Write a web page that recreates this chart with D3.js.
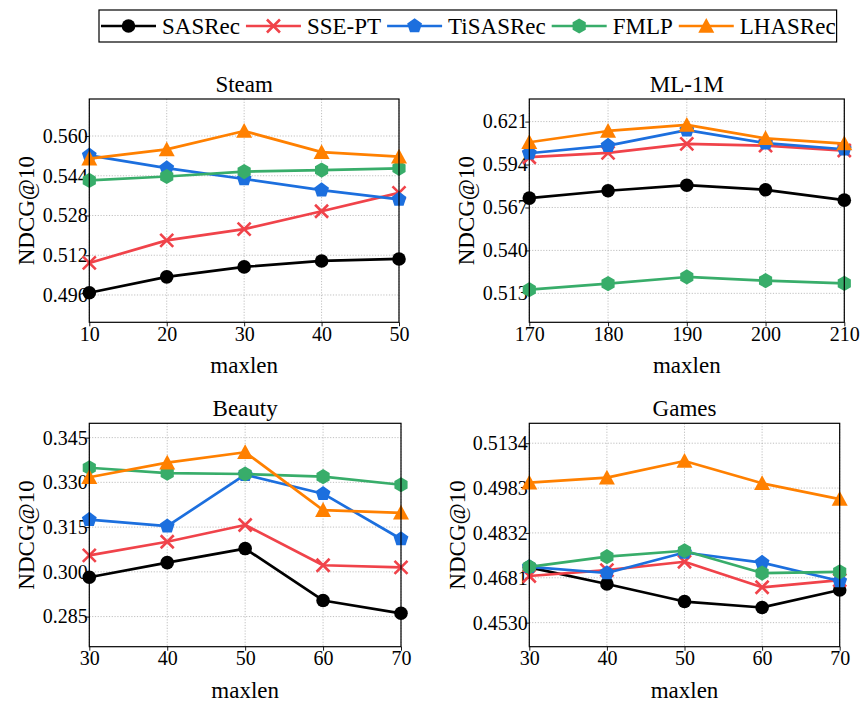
<!DOCTYPE html>
<html>
<head>
<meta charset="UTF-8">
<script src="https://d3js.org/d3.v7.min.js"></script>
</head>
<body style="margin:0">
<svg id="canvas" width="860" height="704"></svg>
<script>
    // series names, in drawing order
    let models = ["SASRec", "SSE-PT", "TiSASRec", "FMLP", "LHASRec"];
    let colors = ["#000000", "#f0434a", "#1c6fde", "#38ad6a", "#ff8000"];
    let shapes = ["circle", "cross", "pentagon", "hexagon", "triangle"];

    // Steam
    let steamX = [10, 20, 30, 40, 50];
    let steamTicks = ["0.496", "0.512", "0.528", "0.544", "0.560"];
    let steamSASRec   = [0.4969, 0.5033, 0.5073, 0.5097, 0.5105];
    let steamSSEPT    = [0.5089, 0.5180, 0.5225, 0.5297, 0.5371];
    let steamTiSASRec = [0.5522, 0.5471, 0.5427, 0.5382, 0.5345];
    let steamFMLP     = [0.5421, 0.5437, 0.5457, 0.5463, 0.5470];
    let steamLHASRec  = [0.5509, 0.5546, 0.5620, 0.5535, 0.5517];

    // ML-1M
    let mlX = [170, 180, 190, 200, 210];
    let mlTicks = ["0.513", "0.540", "0.567", "0.594", "0.621"];
    let mlSASRec   = [0.5729, 0.5775, 0.5810, 0.5781, 0.5716];
    let mlSSEPT    = [0.5986, 0.6013, 0.6070, 0.6059, 0.6028];
    let mlTiSASRec = [0.6011, 0.6059, 0.6156, 0.6074, 0.6036];
    let mlFMLP     = [0.5153, 0.5191, 0.5233, 0.5210, 0.5193];
    let mlLHASRec  = [0.6080, 0.6151, 0.6189, 0.6105, 0.6072];

    // Beauty
    let beautyX = [30, 40, 50, 60, 70];
    let beautyTicks = ["0.285", "0.300", "0.315", "0.330", "0.345"];
    let beautySASRec   = [0.2982, 0.3031, 0.3078, 0.2904, 0.2861];
    let beautySSEPT    = [0.3055, 0.3101, 0.3157, 0.3022, 0.3015];
    let beautyTiSASRec = [0.3175, 0.3153, 0.3326, 0.3262, 0.3110];
    let beautyFMLP     = [0.3349, 0.3331, 0.3328, 0.3319, 0.3292];
    let beautyLHASRec  = [0.3317, 0.3366, 0.3401, 0.3207, 0.3198];

    // Games
    let gamesX = [30, 40, 50, 60, 70];
    let gamesTicks = ["0.4530", "0.4681", "0.4832", "0.4983", "0.5134"];
    let gamesSASRec   = [0.4716, 0.4660, 0.4601, 0.4581, 0.4640];
    let gamesSSEPT    = [0.4687, 0.4707, 0.4735, 0.4649, 0.4673];
    let gamesTiSASRec = [0.4718, 0.4697, 0.4766, 0.4732, 0.4670];
    let gamesFMLP     = [0.4718, 0.4752, 0.4772, 0.4697, 0.4701];
    let gamesLHASRec  = [0.5001, 0.5018, 0.5074, 0.4999, 0.4946];

    let panels = [
        {title: "Steam",  x: steamX,  ticks: steamTicks,  yDomain: [0.485, 0.5749],
         series: [steamSASRec, steamSSEPT, steamTiSASRec, steamFMLP, steamLHASRec],
         box: [89.3, 99, 399, 322.3]},
        {title: "ML-1M",  x: mlX,     ticks: mlTicks,     yDomain: [0.4948, 0.6352],
         series: [mlSASRec, mlSSEPT, mlTiSASRec, mlFMLP, mlLHASRec],
         box: [529.3, 99, 844.3, 322.3]},
        {title: "Beauty", x: beautyX, ticks: beautyTicks, yDomain: [0.2749, 0.3498],
         series: [beautySASRec, beautySSEPT, beautyTiSASRec, beautyFMLP, beautyLHASRec],
         box: [89.3, 423.3, 401, 646.7]},
        {title: "Games",  x: gamesX,  ticks: gamesTicks,  yDomain: [0.4449, 0.5201],
         series: [gamesSASRec, gamesSSEPT, gamesTiSASRec, gamesFMLP, gamesLHASRec],
         box: [529.3, 423.3, 839.7, 646.7]}
    ];

    let svg = d3.select('#canvas');
    let tickSize = 20;   // tick labels
    let fontSize = 23;   // titles, axis labels, legend
    let fontFam = '"Liberation Serif", "Times New Roman", monospace';

    function label(g, x, y, str, anchor){
        return g.append('text').attr("x", x).attr("y", y)
            .attr("text-anchor", anchor || "start")
            .style("font-family", fontFam).style("font-size", fontSize + "px")
            .attr("fill", "black").text(str);
    }

    // marker path generator, centered at 0,0
    function polygon(n, r, rot){
        let pts = d3.range(n).map(i => {
            let a = rot + i * 2 * Math.PI / n;
            return [r * Math.sin(a), -r * Math.cos(a)];
        });
        return "M" + pts.map(p => p.join(",")).join("L") + "Z";
    }
    function drawMarker(g, shape, color, x, y){
        if (shape === "circle"){
            g.append("circle").attr("cx", x).attr("cy", y).attr("r", 6.8).attr("fill", color);
        } else if (shape === "cross"){
            let s = 6.5;
            g.append("path")
                .attr("d", `M${x-s},${y-s}L${x+s},${y+s}M${x-s},${y+s}L${x+s},${y-s}`)
                .attr("stroke", color).attr("stroke-width", 2.6).attr("fill", "none");
        } else if (shape === "pentagon"){
            g.append("path").attr("d", polygon(5, 7.8, 0))
                .attr("transform", `translate(${x},${y})`).attr("fill", color);
        } else if (shape === "hexagon"){
            g.append("path").attr("d", polygon(6, 7.6, 0))
                .attr("transform", `translate(${x},${y})`).attr("fill", color);
        } else if (shape === "triangle"){
            let s = 8;
            g.append("path").attr("d", `M${x},${y-s}L${x+s},${y+s*0.85}L${x-s},${y+s*0.85}Z`)
                .attr("fill", color);
        }
    }

    panels.forEach(p => {
        let [x0, y0, x1, y1] = p.box;
        let xScale = d3.scaleLinear().domain(d3.extent(p.x)).range([x0, x1]);
        let yScale = d3.scaleLinear().domain(p.yDomain).range([y1, y0]);
        let tickVals = p.ticks.map(Number);
        let g = svg.append('g');

        // dotted grid
        let grid = g.append('g')
            .attr("stroke", "#b0b0b0").attr("stroke-width", 0.8).attr("stroke-dasharray", "1.2,1.6");
        grid.selectAll('line.h').data(tickVals).enter().append('line')
            .attr("x1", x0).attr("x2", x1)
            .attr("y1", d => yScale(d)).attr("y2", d => yScale(d));
        grid.selectAll('line.v').data(p.x).enter().append('line')
            .attr("x1", d => xScale(d)).attr("x2", d => xScale(d))
            .attr("y1", y0).attr("y2", y1);

        // axes
        let yAxis = d3.axisLeft(yScale).tickValues(tickVals)
            .tickFormat((d, i) => p.ticks[i]).tickSize(4).tickPadding(-2.5);
        let xAxis = d3.axisBottom(xScale).tickValues(p.x).tickSize(4).tickPadding(0.5);
        let ya = g.append('g').attr("transform", `translate(${x0},0)`).call(yAxis);
        let xa = g.append('g').attr("transform", `translate(0,${y1})`).call(xAxis);
        [ya, xa].forEach(a => {
            a.attr("font-family", null).attr("font-size", null);
            a.select('.domain').remove();
            a.selectAll('text').style("font-size", tickSize + "px")
                .style("font-family", fontFam).attr("fill", "black");
            a.selectAll('line').attr("stroke", "black").attr("stroke-width", 0.9);
        });
        // widest tick label: 5 or 6 characters
        let maxChars = d3.max(p.ticks, s => s.length);
        let labelX = x0 - 2 - maxChars * 9.2 - 7;

        // lines and markers
        let line = d3.line().x((d, i) => xScale(p.x[i])).y(d => yScale(d));
        p.series.forEach((vals, k) => {
            g.append('path').datum(vals).attr("d", line)
                .attr("fill", "none").attr("stroke", colors[k]).attr("stroke-width", 2.7)
                .attr("stroke-linejoin", "round");
            vals.forEach((v, i) => drawMarker(g, shapes[k], colors[k], xScale(p.x[i]), yScale(v)));
        });

        // frame
        g.append('rect').attr("x", x0).attr("y", y0)
            .attr("width", x1 - x0).attr("height", y1 - y0)
            .attr("fill", "none").attr("stroke", "black").attr("stroke-width", 1.2);

        // titles
        let cx = (x0 + x1) / 2, cy = (y0 + y1) / 2;
        label(g, cx, y0 - 7.5, p.title, "middle");
        label(g, cx, y1 + 51, "maxlen", "middle");
        label(g, 0, 0, "NDCG@10", "middle")
            .attr("transform", `translate(${labelX},${cy}) rotate(-90)`);
    });

    // legend
    let legend = svg.append('g');
    let lx = 101;
    models.forEach((m, k) => {
        legend.append('line').attr("x1", lx).attr("x2", lx + 55).attr("y1", 26).attr("y2", 26)
            .attr("stroke", colors[k]).attr("stroke-width", 2.7);
        drawMarker(legend, shapes[k], colors[k], lx + 27.5, 26);
        let t = label(legend, lx + 61, 33.5, m);
        lx += 61 + t.node().getComputedTextLength() + 6;
    });
    legend.insert('rect', ':first-child').attr("x", 99).attr("y", 10)
        .attr("width", lx - 5 - 99).attr("height", 32)
        .attr("fill", "white").attr("stroke", "black").attr("stroke-width", 1.2);
</script>
</body>
</html>
